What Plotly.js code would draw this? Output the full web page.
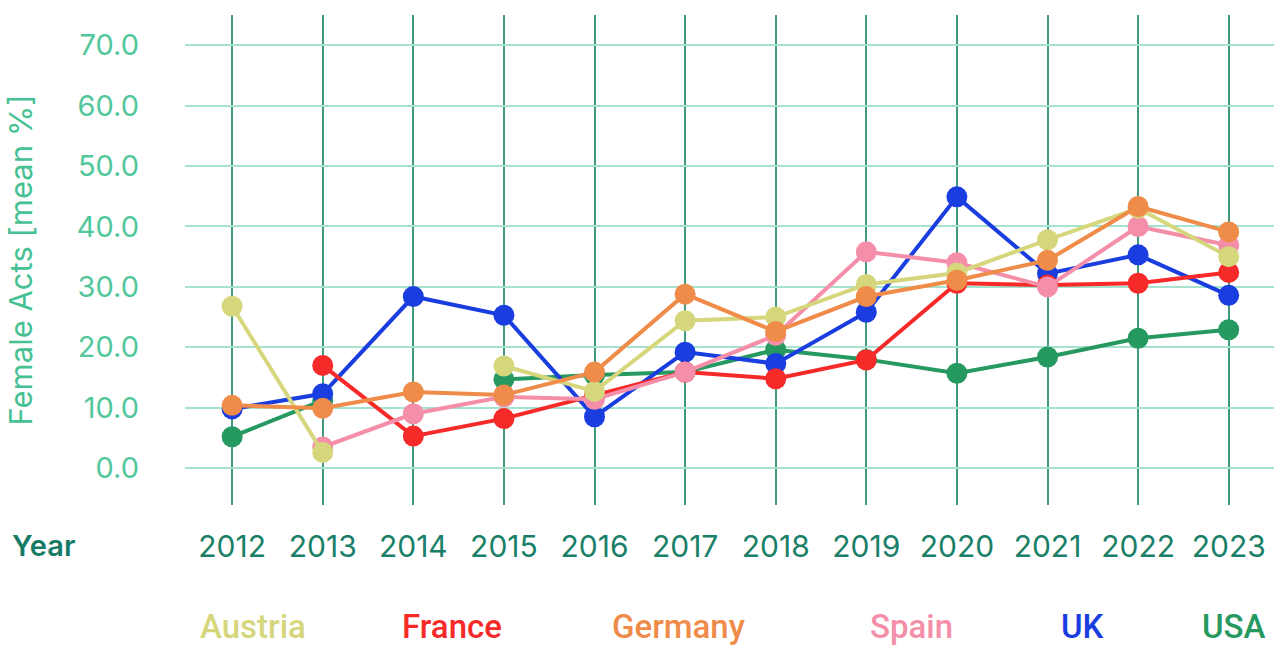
<!DOCTYPE html>
<html>
<head>
<meta charset="utf-8">
<script src="https://cdn.plot.ly/plotly-3.0.1.min.js"></script>
<style>html,body{margin:0;padding:0;background:#fff;}#chart{width:1283px;height:647px;}</style>
</head>
<body>
<div id="chart"></div>
<script>
const years = [2012, 2013, 2014, 2015, 2016, 2017, 2018, 2019, 2020, 2021, 2022, 2023];
const austria = [26.8, 2.6, null, 16.9, 12.7, 24.4, 25.0, 30.4, 32.3, 37.8, 43.0, 35.0];
const france  = [null, 17.0, 5.3, 8.2, 12.0, 15.9, 14.8, 17.9, 30.6, 30.3, 30.6, 32.4];
const germany = [10.4, 9.9, 12.6, 12.1, 15.9, 28.8, 22.6, 28.4, 31.1, 34.4, 43.3, 39.1];
const spain   = [null, 3.5, 9.0, 11.8, 11.4, 15.9, 22.0, 35.8, 34.0, 30.0, 40.0, 36.9];
const uk      = [9.8, 12.3, 28.4, 25.3, 8.5, 19.2, 17.3, 25.8, 44.9, 32.2, 35.3, 28.6];
const usa     = [5.2, 11.2, null, 14.7, 15.4, 15.9, 19.6, 18.0, 15.7, 18.4, 21.5, 22.9];

const seriesNames = ['USA', 'UK', 'France', 'Spain', 'Austria', 'Germany'];
const seriesData = [usa, uk, france, spain, austria, germany];
const seriesColors = ['#25995f', '#1a3de0', '#f72a2a', '#f58ea9', '#d6d67c', '#ef8c4a'];

const legendOrder = ['Austria', 'France', 'Germany', 'Spain', 'UK', 'USA'];
const legendPx = [253, 452, 678, 911, 1082, 1234];

const yTicks = [0, 10, 20, 30, 40, 50, 60, 70];

const traces = seriesNames.map((n, i) => ({
  x: years, y: seriesData[i], name: n, type: 'scatter', mode: 'lines+markers',
  connectgaps: false,
  line: {color: seriesColors[i], width: 4},
  marker: {color: seriesColors[i], size: 21},
  showlegend: false
}));

const L = 185, R = 1274, T = 15, B = 505;
const W = R - L, H = B - T;

const annotations = legendOrder.map((n, i) => ({
  text: n, xref: 'paper', yref: 'paper',
  x: (legendPx[i] - L) / W, y: (B - 627) / H,
  xanchor: 'center', yanchor: 'middle', showarrow: false,
  font: {family: 'Roboto, sans-serif', size: 33, weight: 500, color: seriesColors[seriesNames.indexOf(n)]}
}));
annotations.push({
  text: 'Year', xref: 'paper', yref: 'paper',
  x: (10 - L) / W, y: (B - 545) / H, xanchor: 'left', yanchor: 'middle', showarrow: false,
  font: {family: 'Inter, sans-serif', size: 29, color: '#167a66', weight: 600}
});

const layout = {
  width: 1283, height: 647,
  margin: {l: L, r: 1283 - R, t: T, b: 647 - B},
  paper_bgcolor: '#ffffff', plot_bgcolor: '#ffffff',
  xaxis: {
    range: [2011.48, 2023.5], tickvals: years, ticktext: years.map(String),
    showgrid: true, gridcolor: '#3f9a80', gridwidth: 2, zeroline: false, showline: false,
    ticks: '', ticklabelstandoff: 21,
    tickfont: {family: 'Inter, sans-serif', size: 30, color: '#1a7f68'}
  },
  yaxis: {
    range: [-6.1, 75], tickvals: yTicks, tickformat: '.1f',
    showgrid: true, gridcolor: '#a6e3cf', gridwidth: 2, zeroline: false, showline: false,
    ticks: '', ticklabelstandoff: 45,
    tickfont: {family: 'Inter, sans-serif', size: 29, color: '#52c79c'},
    title: {text: 'Female Acts [mean %]', standoff: 34, font: {family: 'Inter, sans-serif', size: 31, color: '#45c194'}}
  },
  annotations: annotations,
  showlegend: false
};

Plotly.newPlot('chart', traces, layout, {displayModeBar: false, staticPlot: true});
</script>
</body>
</html>
